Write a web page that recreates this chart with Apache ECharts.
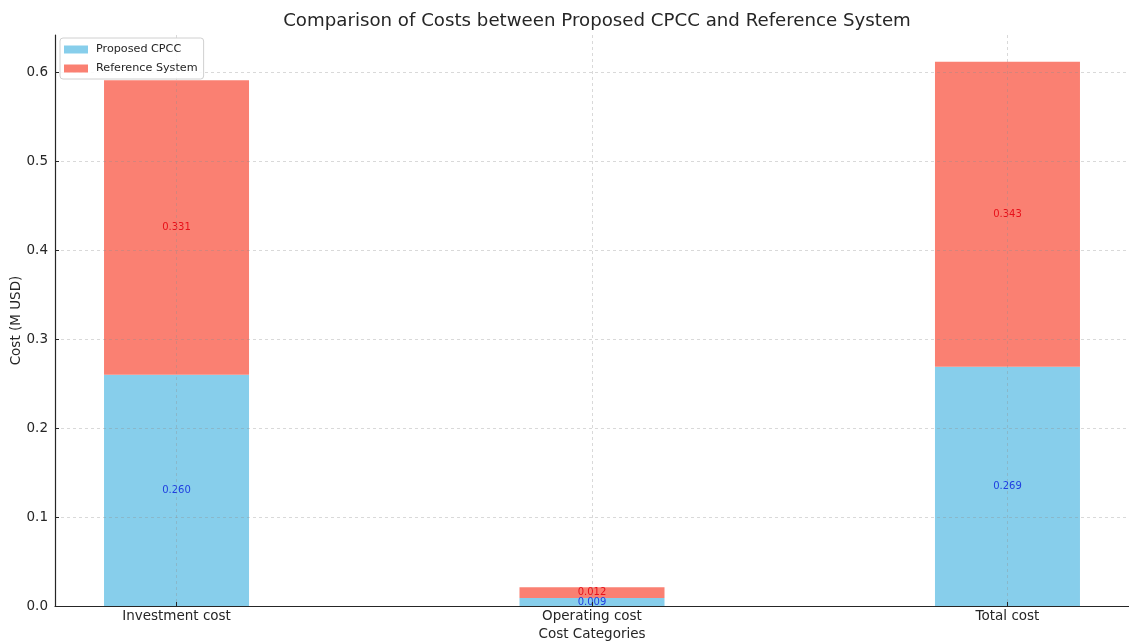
<!DOCTYPE html>
<html>
<head>
<meta charset="utf-8">
<script src="https://cdn.jsdelivr.net/npm/echarts@6/dist/echarts.min.js"></script>
<style>
  html, body { margin: 0; padding: 0; background: #fff; }
  #chart { width: 1129px; height: 642px; }
</style>
</head>
<body>
<div id="chart"></div>
<script>
// Cost categories and stacked values (M USD)
const categories = ['Investment cost', 'Operating cost', 'Total cost'];
const proposedCPCC = [0.260, 0.009, 0.269];
const referenceSystem = [0.331, 0.012, 0.343];
const yTicks = [0, 0.1, 0.2, 0.3, 0.4, 0.5, 0.6];

const FONT = 'DejaVu Sans';
const chart = echarts.init(document.getElementById('chart'), null, { renderer: 'canvas' });

// Frame: plot area and x range (in category units, with a margin around the bars)
const PLOT_LEFT = 55, PLOT_RIGHT = 1129, PLOT_TOP = 35, PLOT_BOTTOM = 606;
const X_MIN = -0.2925, X_MAX = 2.2925, Y_MAX = 0.642;
const pxPerUnit = (PLOT_RIGHT - PLOT_LEFT) / (X_MAX - X_MIN);
// Bar grid: category bands one unit wide, aligned to the frame's x scale
const barLeft = PLOT_LEFT + (-0.5 - X_MIN) * pxPerUnit;
const barRight = PLOT_LEFT + (categories.length - 0.5 - X_MIN) * pxPerUnit;

// Translucent dashed grid, drawn over the bars
const gridLine = { show: true, lineStyle: { color: 'rgba(140,140,140,0.42)', type: [3, 3], width: 0.8 } };
const textColor = '#262626';

chart.setOption({
  animation: false,
  backgroundColor: '#ffffff',
  title: {
    text: 'Comparison of Costs between Proposed CPCC and Reference System',
    left: (PLOT_LEFT + PLOT_RIGHT) / 2, top: 7, textAlign: 'center',
    textStyle: { fontFamily: FONT, fontSize: 18.2, fontWeight: 'normal', color: textColor }
  },
  legend: {
    orient: 'vertical', left: 60, top: 38, z: 10,
    itemWidth: 24, itemHeight: 8, itemGap: 8,
    padding: [6, 6, 5, 4],
    borderColor: '#d0d0d0', borderWidth: 1, borderRadius: 3,
    backgroundColor: 'rgba(255,255,255,0.85)',
    icon: 'rect',
    textStyle: { fontFamily: FONT, fontSize: 11.2, color: textColor, padding: [0, 0, 0, 3] },
    data: ['Proposed CPCC', 'Reference System']
  },
  grid: [
    { left: PLOT_LEFT, right: 1129 - PLOT_RIGHT, top: PLOT_TOP, bottom: 642 - PLOT_BOTTOM,
      containLabel: false, outerBoundsMode: 'none' },
    { left: barLeft, right: 1129 - barRight, top: PLOT_TOP, bottom: 642 - PLOT_BOTTOM,
      containLabel: false, outerBoundsMode: 'none' }
  ],
  xAxis: [
    {
      gridIndex: 0, type: 'value', min: X_MIN, max: X_MAX, z: 3,
      name: 'Cost Categories', nameLocation: 'middle', nameGap: 21,
      nameTextStyle: { fontFamily: FONT, fontSize: 13.5, color: textColor },
      axisLine: { show: true, onZero: false, lineStyle: { color: textColor, width: 1.2 } },
      axisTick: { show: true, inside: true, length: 4, customValues: [0, 1, 2], lineStyle: { color: textColor } },
      axisLabel: {
        customValues: [0, 1, 2], margin: 3,
        fontFamily: FONT, fontSize: 13.5, color: textColor,
        formatter: v => categories[Math.round(v)] || ''
      },
      splitLine: gridLine
    },
    {
      gridIndex: 1, type: 'category', data: categories, boundaryGap: true, show: false
    }
  ],
  yAxis: [
    {
      gridIndex: 0, type: 'value', min: 0, max: Y_MAX, z: 3,
      name: 'Cost (M USD)', nameLocation: 'middle', nameGap: 32, nameRotate: 90,
      nameMoveOverlap: false,
      nameTextStyle: { fontFamily: FONT, fontSize: 13.5, color: textColor },
      axisLine: { show: true, onZero: false, lineStyle: { color: textColor, width: 1.2 } },
      axisTick: { show: true, inside: true, length: 4, customValues: yTicks, lineStyle: { color: textColor } },
      axisLabel: {
        customValues: yTicks, margin: 7,
        fontFamily: FONT, fontSize: 13.5, color: textColor,
        formatter: v => v.toFixed(1)
      },
      splitLine: gridLine
    },
    {
      gridIndex: 1, type: 'value', min: 0, max: Y_MAX, show: false, splitLine: { show: false }
    }
  ],
  series: [
    {
      name: 'Proposed CPCC', type: 'bar', stack: 'cost',
      xAxisIndex: 1, yAxisIndex: 1,
      barWidth: 145,
      itemStyle: { color: '#87CEEB' },
      label: {
        show: true, position: 'inside',
        fontFamily: FONT, fontSize: 10, color: '#1f3fe0',
        formatter: p => p.value.toFixed(3)
      },
      data: proposedCPCC
    },
    {
      name: 'Reference System', type: 'bar', stack: 'cost',
      xAxisIndex: 1, yAxisIndex: 1,
      barWidth: 145,
      itemStyle: { color: '#FA8072' },
      label: {
        show: true, position: 'inside',
        fontFamily: FONT, fontSize: 10, color: '#e8101a',
        formatter: p => p.value.toFixed(3)
      },
      data: referenceSystem
    }
  ]
});
</script>
</body>
</html>
